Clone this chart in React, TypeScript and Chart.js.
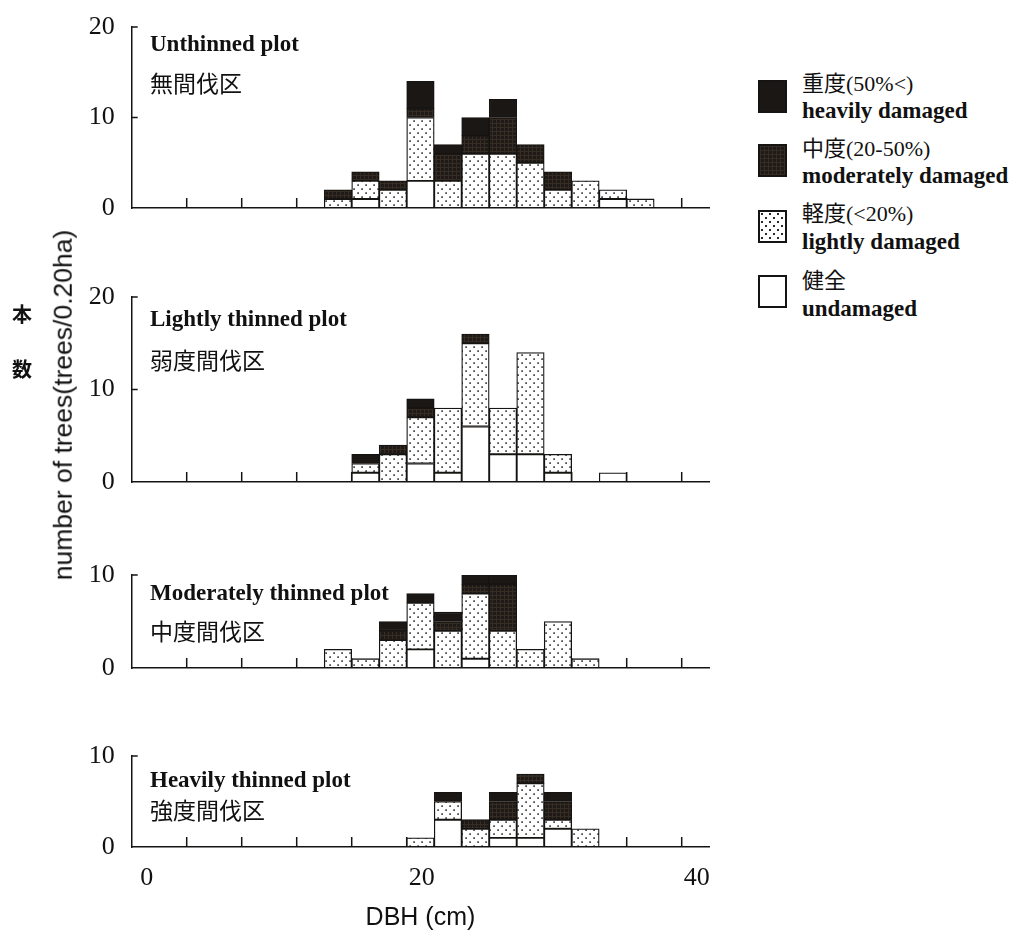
import React, { useEffect, useRef } from 'react';
import { Chart, registerables } from 'chart.js';

Chart.register(...registerables);

// ---------- data ----------
// DBH classes of 2 cm: 14-16, 16-18, ... 36-38 (class centres)
const BIN_CENTERS = [15, 17, 19, 21, 23, 25, 27, 29, 31, 33, 35, 37];
const X_TICK_MARKS = [4, 8, 12, 16, 20, 24, 28, 32, 36, 40];
const X_TICK_LABELS = [0, 20, 40];

const UNTHINNED_UNDAMAGED = [0, 1, 0, 3, 0, 0, 0, 0, 0, 0, 1, 0];
const UNTHINNED_LIGHT = [1, 2, 2, 7, 3, 6, 6, 5, 2, 3, 1, 1];
const UNTHINNED_MODERATE = [1, 1, 1, 1, 3, 2, 4, 2, 2, 0, 0, 0];
const UNTHINNED_HEAVY = [0, 0, 0, 3, 1, 2, 2, 0, 0, 0, 0, 0];

const LIGHTLY_UNDAMAGED = [0, 1, 0, 2, 1, 6, 3, 3, 1, 0, 1, 0];
const LIGHTLY_LIGHT = [0, 1, 3, 5, 7, 9, 5, 11, 2, 0, 0, 0];
const LIGHTLY_MODERATE = [0, 0, 1, 1, 0, 1, 0, 0, 0, 0, 0, 0];
const LIGHTLY_HEAVY = [0, 1, 0, 1, 0, 0, 0, 0, 0, 0, 0, 0];

const MODERATELY_UNDAMAGED = [0, 0, 0, 2, 0, 1, 0, 0, 0, 0, 0, 0];
const MODERATELY_LIGHT = [2, 1, 3, 5, 4, 7, 4, 2, 5, 1, 0, 0];
const MODERATELY_MODERATE = [0, 0, 1, 0, 1, 1, 5, 0, 0, 0, 0, 0];
const MODERATELY_HEAVY = [0, 0, 1, 1, 1, 1, 1, 0, 0, 0, 0, 0];

const HEAVILY_UNDAMAGED = [0, 0, 0, 0, 3, 0, 1, 1, 2, 0, 0, 0];
const HEAVILY_LIGHT = [0, 0, 0, 1, 2, 2, 2, 6, 1, 2, 0, 0];
const HEAVILY_MODERATE = [0, 0, 0, 0, 0, 1, 2, 1, 2, 0, 0, 0];
const HEAVILY_HEAVY = [0, 0, 0, 0, 1, 0, 1, 0, 1, 0, 0, 0];

const PANEL_TITLES_EN = ['Unthinned plot', 'Lightly thinned plot', 'Moderately thinned plot', 'Heavily thinned plot'];
const PANEL_TITLES_JA = ['無間伐区', '弱度間伐区', '中度間伐区', '強度間伐区'];
const PANEL_Y_MAX = [20, 20, 10, 10];

const LEGEND_JA = ['重度(50%<)', '中度(20-50%)', '軽度(<20%)', '健全'];
const LEGEND_EN = ['heavily damaged', 'moderately damaged', 'lightly damaged', 'undamaged'];

const Y_TITLE = 'number of trees(trees/0.20ha)';
const Y_TITLE_JA = ['本', '数'];
const X_TITLE = 'DBH (cm)';

const PANEL_SERIES = [
  [UNTHINNED_UNDAMAGED, UNTHINNED_LIGHT, UNTHINNED_MODERATE, UNTHINNED_HEAVY],
  [LIGHTLY_UNDAMAGED, LIGHTLY_LIGHT, LIGHTLY_MODERATE, LIGHTLY_HEAVY],
  [MODERATELY_UNDAMAGED, MODERATELY_LIGHT, MODERATELY_MODERATE, MODERATELY_HEAVY],
  [HEAVILY_UNDAMAGED, HEAVILY_LIGHT, HEAVILY_MODERATE, HEAVILY_HEAVY],
];

// ---------- layout ----------
const CANVAS_W = 720;
const AXIS_LEFT = 131.7;
const AXIS_RIGHT = 709.2;
const PAD_TOP = 40;
// [plot top, plot bottom (zero line), x-axis box height]
const PANEL_BOXES = [
  [27, 208, 40],
  [297, 482, 40],
  [575, 668, 40],
  [756, 847, 92],
];
const TITLE_EN_CENTER = [43, 318, 592, 779];
const TITLE_JA_CENTER = [82, 359, 630, 809];

const SERIF = '"Liberation Serif", "Times New Roman", serif';
const SANS = '"Liberation Sans", Arial, sans-serif';
const CJK = '"Noto Sans CJK JP", "Noto Sans CJK SC", sans-serif';
const INK = '#161412';

function makePatterns() {
  const mk = (w: number, h: number, draw: (g: CanvasRenderingContext2D) => void) => {
    const c = document.createElement('canvas');
    c.width = w;
    c.height = h;
    const g = c.getContext('2d')!;
    draw(g);
    return g.createPattern(c, 'repeat')!;
  };
  const light = mk(8, 8, (g) => {
    g.fillStyle = '#ffffff';
    g.fillRect(0, 0, 8, 8);
    g.fillStyle = '#2a2a2a';
    g.fillRect(1.3, 1.3, 1.6, 1.6);
    g.fillRect(5.3, 5.3, 1.6, 1.6);
  });
  const moderate = mk(4, 4, (g) => {
    g.fillStyle = '#1f1a17';
    g.fillRect(0, 0, 4, 4);
    g.fillStyle = '#352d23';
    g.fillRect(0, 0, 4, 1);
    g.fillRect(0, 0, 1, 4);
  });
  return { light, moderate };
}

const inwardTicks = {
  id: 'inwardTicks',
  beforeDatasetsDraw(chart: any) {
    const { ctx, chartArea, scales } = chart;
    const x = scales.x;
    const y = scales.y;
    ctx.save();
    ctx.strokeStyle = INK;
    ctx.lineWidth = 1.5;
    ctx.beginPath();
    X_TICK_MARKS.forEach((v) => {
      const px = x.getPixelForValue(v);
      ctx.moveTo(px, chartArea.bottom);
      ctx.lineTo(px, chartArea.bottom - 10);
    });
    y.ticks.forEach((t: any) => {
      if (t.value === 0) return;
      const py = y.getPixelForValue(t.value);
      ctx.moveTo(chartArea.left, py);
      ctx.lineTo(chartArea.left + 6, py);
    });
    ctx.stroke();
    ctx.restore();
  },
};

function Panel({ index }: { index: number }) {
  const ref = useRef<HTMLCanvasElement | null>(null);
  const [top, bottom, xh] = PANEL_BOXES[index];
  const canvasTop = top - PAD_TOP;
  const canvasH = PAD_TOP + (bottom - top) + xh;
  const isBottom = index === PANEL_BOXES.length - 1;

  useEffect(() => {
    if (!ref.current) return;
    const pats = makePatterns();
    const [und, lig, mod, hev] = PANEL_SERIES[index];
    const toData = (arr: number[]) => BIN_CENTERS.map((x, i) => ({ x, y: arr[i] ? arr[i] : null }));
    const base = {
      borderColor: INK,
      borderWidth: 1.3,
      borderSkipped: false,
      barPercentage: 1,
      categoryPercentage: 1,
    };
    const chart = new Chart(ref.current, {
      type: 'bar',
      data: {
        datasets: [
          { ...base, label: LEGEND_EN[3], data: toData(und), backgroundColor: '#ffffff' },
          { ...base, label: LEGEND_EN[2], data: toData(lig), backgroundColor: pats.light },
          { ...base, label: LEGEND_EN[1], data: toData(mod), backgroundColor: pats.moderate },
          { ...base, label: LEGEND_EN[0], data: toData(hev), backgroundColor: '#1b1715' },
        ] as any,
      },
      options: {
        responsive: false,
        maintainAspectRatio: false,
        animation: false,
        layout: { padding: { top: PAD_TOP, left: 0, right: CANVAS_W - AXIS_RIGHT, bottom: 0 } },
        plugins: {
          legend: { display: false },
          tooltip: { enabled: false },
          title: { display: false },
        },
        scales: {
          x: {
            type: 'linear',
            min: 0,
            max: 42,
            stacked: true,
            offset: false,
            grid: { display: false, drawTicks: false, offset: false },
            border: { display: true, color: INK, width: 1.5 },
            ticks: {
              display: isBottom,
              stepSize: 20,
              includeBounds: false,
              autoSkip: false,
              maxRotation: 0,
              labelOffset: 15,
              padding: 16,
              color: '#111',
              font: { family: SERIF, size: 26 },
              callback: (v: any) => (X_TICK_LABELS.includes(Number(v)) ? String(v) : ''),
            },
            title: {
              display: isBottom,
              text: X_TITLE,
              color: '#111',
              font: { family: SANS, size: 25 },
              padding: { top: 0, bottom: 6 },
            },
            afterFit: (s: any) => {
              s.height = xh;
            },
          },
          y: {
            min: 0,
            max: PANEL_Y_MAX[index],
            stacked: true,
            grid: { display: false, drawTicks: false },
            border: { display: true, color: INK, width: 1.5 },
            ticks: {
              stepSize: 10,
              padding: 17,
              color: '#111',
              font: { family: SERIF, size: 26 },
            },
            afterFit: (s: any) => {
              s.width = AXIS_LEFT;
            },
          },
        },
      } as any,
      plugins: [inwardTicks],
    });
    return () => chart.destroy();
  }, [index]);

  return (
    <canvas
      ref={ref}
      width={CANVAS_W}
      height={canvasH}
      style={{ position: 'absolute', left: 0, top: canvasTop, width: CANVAS_W, height: canvasH }}
    />
  );
}

const swatchBase: React.CSSProperties = {
  position: 'absolute',
  left: 758,
  width: 29,
  height: 33,
  boxSizing: 'border-box',
  border: `2px solid ${INK}`,
};
const SWATCH_STYLES: React.CSSProperties[] = [
  { background: '#1b1715' },
  {
    backgroundColor: '#1f1a17',
    backgroundImage:
      'linear-gradient(#352d23 1px, transparent 1px), linear-gradient(90deg, #352d23 1px, transparent 1px)',
    backgroundSize: '4px 4px',
  },
  {
    backgroundColor: '#ffffff',
    backgroundImage:
      'radial-gradient(circle at 2px 2px, #2a2a2a 1px, transparent 1.3px), radial-gradient(circle at 6px 6px, #2a2a2a 1px, transparent 1.3px)',
    backgroundSize: '8px 8px',
  },
  { background: '#ffffff' },
];
const SWATCH_TOPS = [80, 144, 210, 275];
const LEGEND_JA_TOPS = [72.5, 137.5, 202.5, 269.5];
const LEGEND_EN_TOPS = [99, 163.5, 229.5, 296.5];

export default function App() {
  const txt = (extra: React.CSSProperties): React.CSSProperties => ({
    position: 'absolute',
    whiteSpace: 'nowrap',
    lineHeight: 1,
    color: '#111',
    ...extra,
  });
  return (
    <div style={{ position: 'absolute', left: 0, top: 0, width: 1011, height: 939, background: '#fff', overflow: 'hidden' }}>
      {PANEL_BOXES.map((_, i) => (
        <Panel key={i} index={i} />
      ))}
      {PANEL_TITLES_EN.map((t, i) => (
        <div key={'en' + i} style={txt({ left: 150, top: TITLE_EN_CENTER[i] - 11.5, fontSize: 23, fontWeight: 'bold', fontFamily: SERIF })}>
          {t}
        </div>
      ))}
      {PANEL_TITLES_JA.map((t, i) => (
        <div key={'ja' + i} style={txt({ left: 150, top: TITLE_JA_CENTER[i] - 11.5, fontSize: 23, fontFamily: CJK })}>
          {t}
        </div>
      ))}
      {LEGEND_JA.map((t, i) => (
        <React.Fragment key={'lg' + i}>
          <div style={{ ...swatchBase, ...SWATCH_STYLES[i], top: SWATCH_TOPS[i] }} />
          <div style={txt({ left: 802, top: LEGEND_JA_TOPS[i], fontSize: 22, fontFamily: `${SERIF.split(',')[0]}, ${CJK}` })}>{t}</div>
          <div style={txt({ left: 802, top: LEGEND_EN_TOPS[i], fontSize: 23, fontWeight: 'bold', fontFamily: SERIF })}>
            {LEGEND_EN[i]}
          </div>
        </React.Fragment>
      ))}
      <div
        style={txt({
          left: 63,
          top: 405,
          fontSize: 26.5,
          fontFamily: SANS,
          transform: 'translate(-50%, -50%) rotate(-90deg)',
        })}
      >
        {Y_TITLE}
      </div>
      {Y_TITLE_JA.map((c, i) => (
        <div key={'yj' + i} style={txt({ left: 12, top: [304, 359][i], fontSize: 20, fontWeight: 'bold', fontFamily: CJK })}>
          {c}
        </div>
      ))}
    </div>
  );
}
